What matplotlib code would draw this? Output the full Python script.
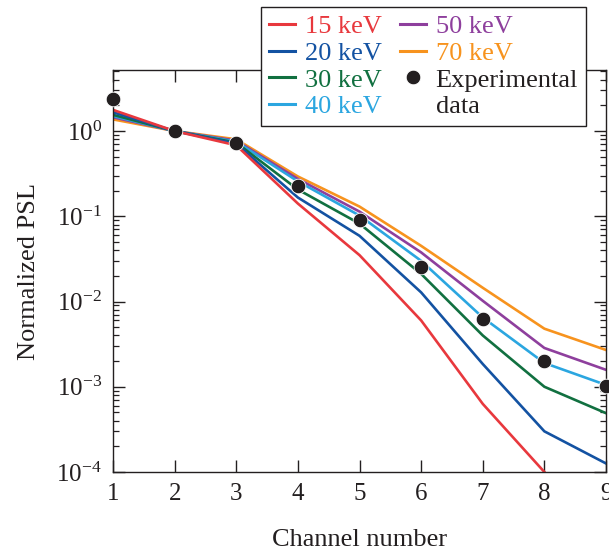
import matplotlib
matplotlib.use("Agg")
import matplotlib.pyplot as plt
from matplotlib.lines import Line2D
from matplotlib.ticker import LogLocator, NullFormatter

plt.rcParams['font.family'] = ['Liberation Serif', 'DejaVu Serif']
plt.rcParams['mathtext.fontset'] = 'custom'
plt.rcParams['mathtext.rm'] = 'Liberation Serif'
plt.rcParams['mathtext.it'] = 'Liberation Serif:italic'
plt.rcParams['mathtext.bf'] = 'Liberation Serif:bold'

channels = [1, 2, 3, 4, 5, 6, 7, 8, 9]
kev15 = [1.77, 1.0, 0.68, 0.141, 0.035, 0.0060, 0.00063, 0.0001, 0.000015]
kev20 = [1.66, 1.0, 0.71, 0.166, 0.059, 0.0128, 0.00185, 0.0003, 0.000126]
kev30 = [1.55, 1.0, 0.73, 0.206, 0.082, 0.0211, 0.0040, 0.0010, 0.00049]
kev40 = [1.50, 1.0, 0.75, 0.257, 0.102, 0.030, 0.0065, 0.0019, 0.00105]
kev50 = [1.45, 1.0, 0.77, 0.274, 0.1135, 0.0377, 0.0102, 0.00285, 0.00158]
kev70 = [1.37, 1.0, 0.80, 0.293, 0.130, 0.045, 0.0145, 0.0048, 0.0027]
experimental = [2.38, 1.0, 0.72, 0.224, 0.091, 0.0257, 0.0063, 0.00203, 0.00102]

series_labels = ['15 keV', '20 keV', '30 keV', '40 keV', '50 keV', '70 keV']
series_values = [kev15, kev20, kev30, kev40, kev50, kev70]
series_colors = ['#e8383d', '#1352a2', '#117040', '#2ba6e0', '#8e3f9d', '#f7931e']

ink = '#231f20'

fig = plt.figure(figsize=(6.09, 5.52), dpi=100)
ax = fig.add_axes([113/609, 1-472/552, (606-113)/609, (472-70)/552])

handles = {}
for lab, vals, col in reversed(list(zip(series_labels, series_values, series_colors))):
    h, = ax.plot(channels, vals, color=col, lw=1.9, label=lab, solid_joinstyle='miter')
    handles[lab] = h
pts, = ax.plot(channels, experimental, linestyle='none', marker='o', ms=10.5,
               mfc=ink, mec='white', mew=0.6, color=ink, clip_on=False, zorder=5,
               label='Experimental')

ax.set_yscale('log')
ax.set_xlim(1, 9)
ax.set_ylim(1e-4, 5.2)
ax.set_xticks(channels)
ax.yaxis.set_major_locator(LogLocator(base=10, numticks=20))
ax.yaxis.set_minor_locator(LogLocator(base=10, subs=range(2, 10), numticks=50))
ax.yaxis.set_minor_formatter(NullFormatter())

for s in ax.spines.values():
    s.set_color(ink)
    s.set_linewidth(1.0)
ax.tick_params(which='major', direction='in', length=8.5, width=1.0, color=ink,
               top=True, right=True, labelsize=18, labelcolor=ink, pad=8)
ax.tick_params(which='minor', direction='in', length=4.3, width=0.9, color=ink,
               right=True, top=False)
ax.tick_params(axis='x', which='minor', bottom=False, top=False)

ax.set_xlabel('Channel number', fontsize=19, color=ink, labelpad=17)
ax.set_ylabel('Normalized PSL', fontsize=19, color=ink, labelpad=12)

blank = Line2D([], [], linestyle='none', marker=None, label='data')
leg_handles = [handles['15 keV'], handles['20 keV'], handles['30 keV'], handles['40 keV'],
               handles['50 keV'], handles['70 keV'], pts, blank]
leg_labels = ['15 keV', '20 keV', '30 keV', '40 keV', '50 keV', '70 keV', 'Experimental', 'data']
leg = fig.legend(leg_handles, leg_labels, loc='upper left',
                 bbox_to_anchor=(261/609, 1-7/552), ncol=2, fontsize=19,
                 frameon=True, fancybox=False, edgecolor=ink, framealpha=1,
                 handlelength=1.0, handletextpad=0.35, columnspacing=0.7,
                 labelspacing=0.12, borderpad=0.3, borderaxespad=0)
leg.get_frame().set_linewidth(1.0)
text_colors = series_colors[:4] + series_colors[4:] + [ink, ink]
for t, c in zip(leg.get_texts(), text_colors):
    t.set_color(c)
for lh in leg.legend_handles:
    if hasattr(lh, 'set_linewidth'):
        lh.set_linewidth(2.2)

fig.savefig('out.png', dpi=100)
